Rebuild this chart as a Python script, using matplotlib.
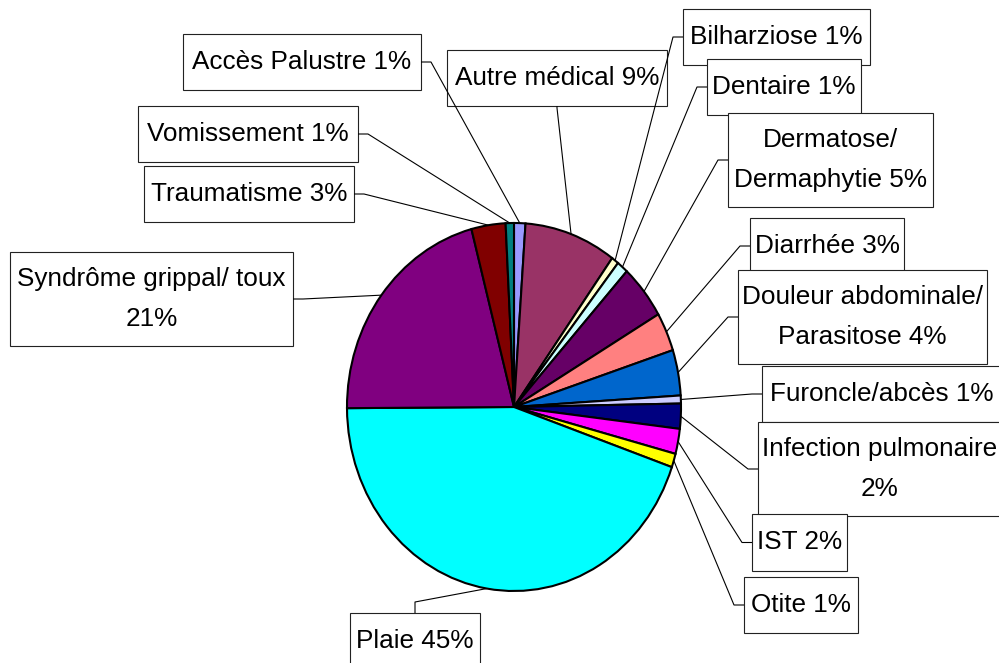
import matplotlib
matplotlib.use("Agg")
import matplotlib.pyplot as plt
from matplotlib.patches import Rectangle
import numpy as np

# ---------------- data ----------------
categories = ["Accès Palustre", "Autre médical", "Bilharziose", "Dentaire",
              "Dermatose/\nDermaphytie", "Diarrhée",
              "Douleur abdominale/\nParasitose", "Furoncle/abcès",
              "Infection pulmonaire", "IST", "Otite", "Plaie",
              "Syndrôme grippal/ toux", "Traumatisme", "Vomissement"]
values = [1.1, 8.9, 0.7, 1.1, 4.8, 3.4, 4.0, 0.7, 2.2, 2.2, 1.2, 44.6, 21.0, 3.3, 0.8]
colors = ["#9999FF", "#993366", "#FFFFCC", "#CCFFFF", "#660066", "#FF8080",
          "#0066CC", "#CCCCFF", "#000080", "#FF00FF", "#FFFF00", "#00FFFF",
          "#800080", "#800000", "#008080"]
# separator between name and percentage (layout of the label text)
label_sep = [" ", " ", " ", " ", " ", " ", " ", " ", "\n", " ", " ", " ", "\n", " ", " "]

# ---------------- layout (pixels, y from top) ----------------
W, H = 999, 663
boxes = [  # x0, y0, x1, y1, side where leader leaves the box
    (183, 34, 421, 90, "right"),
    (447, 50, 667, 106, "bottom"),
    (683, 9, 870, 65, "left"),
    (707, 59, 861, 115, "left"),
    (728, 113, 933, 207, "left"),
    (750, 218, 904, 274, "left"),
    (738, 270, 987, 364, "left"),
    (762, 366, 1002, 422, "left"),
    (758, 422, 1002, 516, "left"),
    (752, 514, 847, 571, "left"),
    (744, 577, 858, 633, "left"),
    (350, 613, 480, 670, "top"),
    (10, 252, 293, 346, "right"),
    (144, 166, 354, 222, "right"),
    (138, 106, 358, 162, "right"),
]
cx, cy, rx, ry = 514, 407, 167, 184
FONT = "Liberation Sans"
FS = 18.8
LINE_STEP = 38.5

fig = plt.figure(figsize=(W / 100, H / 100), dpi=100)
fig.patch.set_facecolor("white")

pie_ax = fig.add_axes([(cx - rx) / W, 1 - (cy + ry) / H, 2 * rx / W, 2 * ry / H])
wedges, _ = pie_ax.pie(values, colors=colors, startangle=90, counterclock=False,
                       radius=1, wedgeprops=dict(edgecolor="black", linewidth=1.5))
pie_ax.set_aspect("auto")
pie_ax.set_xlim(-1, 1)
pie_ax.set_ylim(-1, 1)
pie_ax.axis("off")
for w in wedges:
    w.set_clip_on(False)

ov = fig.add_axes([0, 0, 1, 1])
ov.set_xlim(0, W)
ov.set_ylim(H, 0)
ov.axis("off")
ov.patch.set_visible(False)

total = sum(values)
to_ov = ov.transData.inverted()
for i, (cat, v, sep, w, b) in enumerate(zip(categories, values, label_sep, wedges, boxes)):
    x0, y0, x1, y1, side = b
    pct = int(round(v / total * 100))
    text = f"{cat}{sep}{pct}%"
    nlines = text.count("\n") + 1
    ov.add_patch(Rectangle((x0, y0), x1 - x0, y1 - y0, facecolor="white",
                           edgecolor="#222222", linewidth=0.8, zorder=2 + i * 0.01))
    ov.text((x0 + x1) / 2, y0 + 35 + (nlines - 1) * LINE_STEP, text,
            ha="center", va="baseline", multialignment="center",
            fontsize=FS, family=FONT, color="black",
            linespacing=1.8, zorder=2.005 + i * 0.01)
    # leader line to the middle of the wedge's outer edge
    th = np.deg2rad((w.theta1 + w.theta2) / 2)
    disp = pie_ax.transData.transform((np.cos(th), np.sin(th)))
    px, py = to_ov.transform(disp)
    xm, ym = (x0 + x1) / 2, (y0 + y1) / 2
    if side == "right":
        pts = [(x1, ym), (x1 + 10, ym)]
    elif side == "left":
        pts = [(x0, ym), (x0 - 10, ym)]
    elif side == "top":
        pts = [(xm, y0), (xm, y0 - 11)]
    else:
        pts = [(xm, y1), (xm, y1 + 2)]
    pts.append((px, py))
    ov.plot([p[0] for p in pts], [p[1] for p in pts], color="black",
            linewidth=0.8, zorder=5, solid_capstyle="butt")

fig.savefig("out.png", dpi=100, facecolor="white")
